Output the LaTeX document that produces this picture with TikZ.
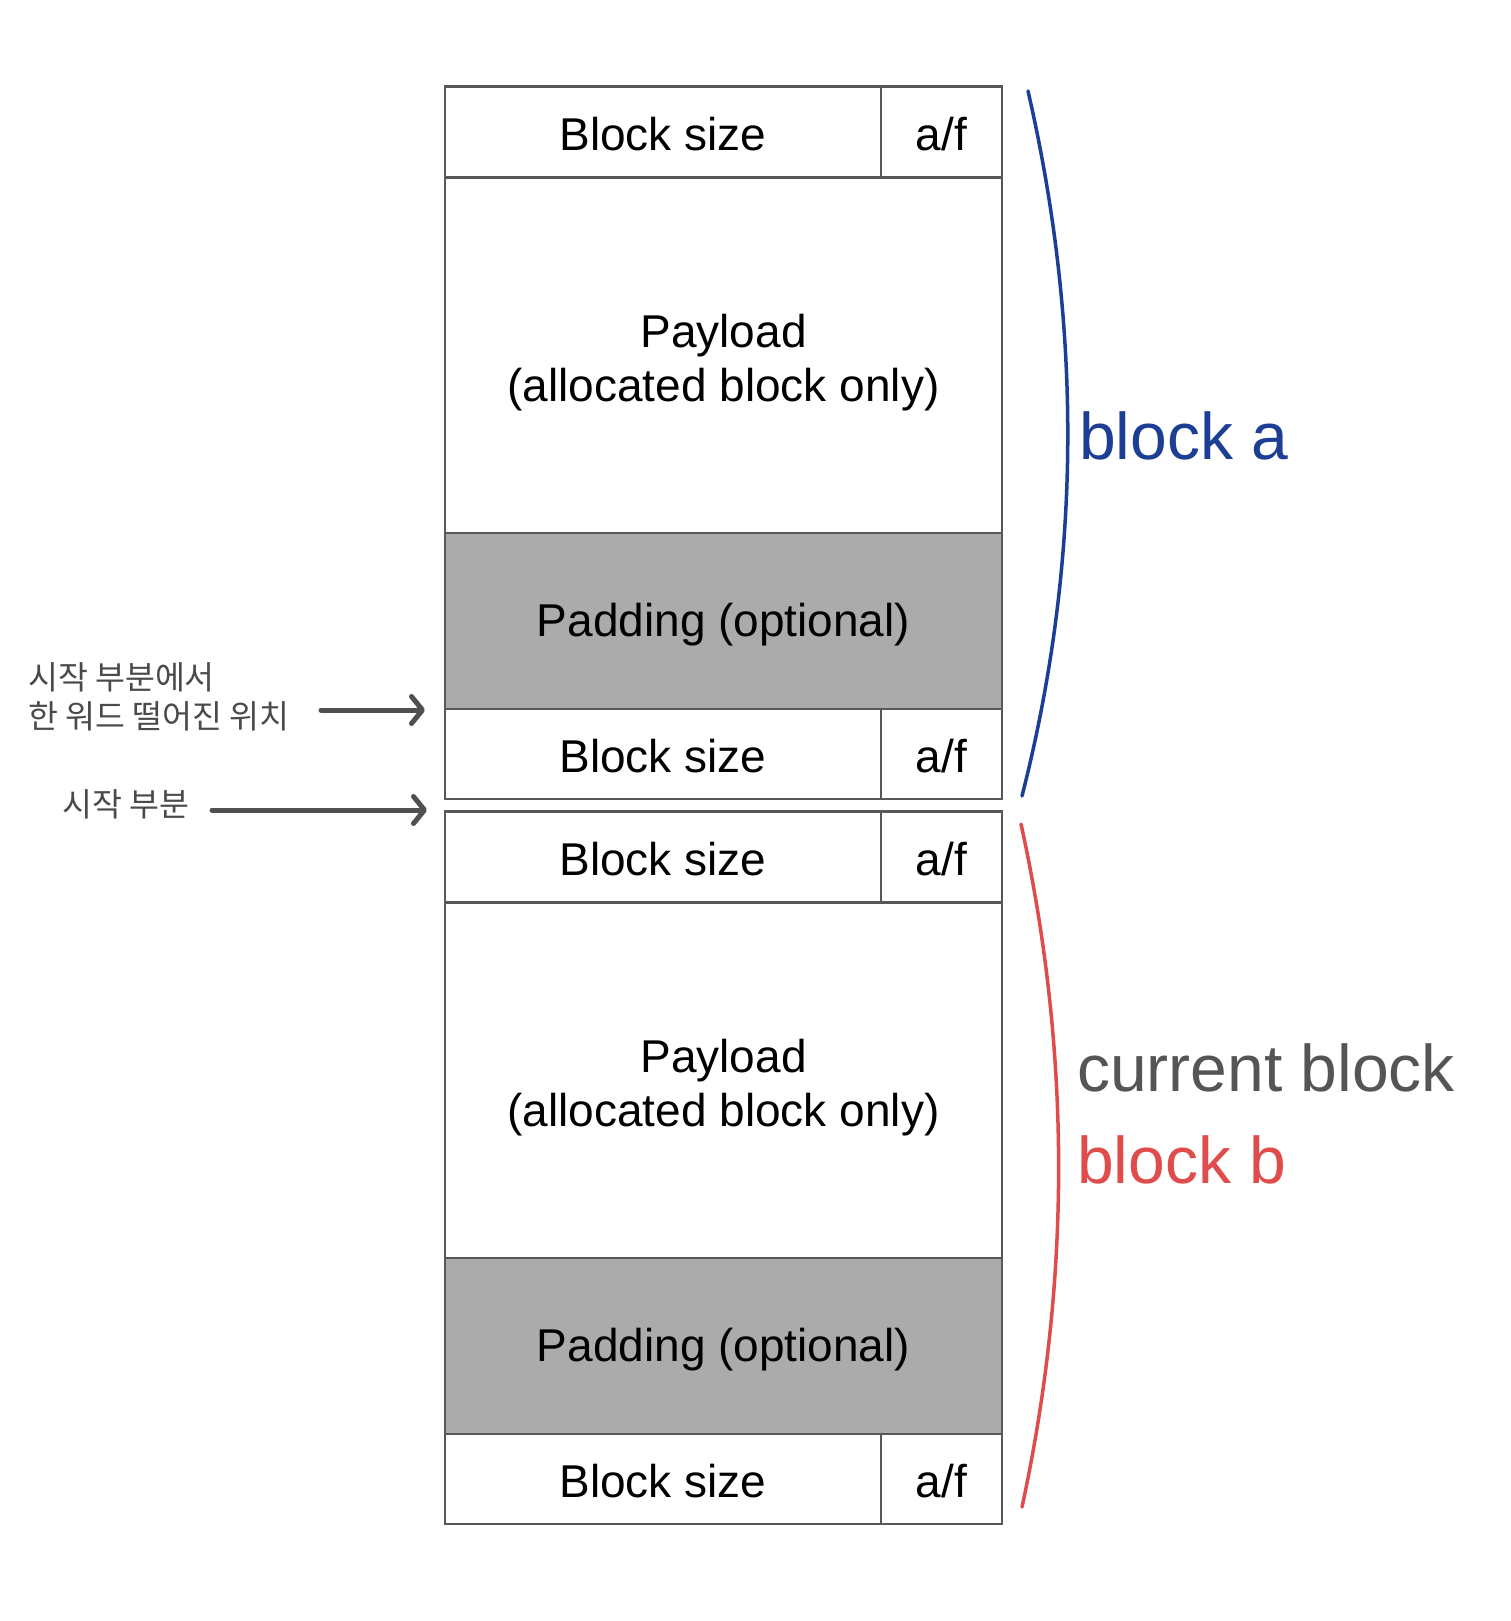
\documentclass[tikz,border=0pt]{standalone}
\usepackage{fontspec}
\setmainfont{Liberation Sans}
\newfontfamily\kofont{Noto Sans CJK KR}
\usetikzlibrary{arrows.meta}
\definecolor{boxline}{HTML}{585858}
\definecolor{padgray}{HTML}{ABABAB}
\definecolor{labgray}{HTML}{4A4A4A}
\definecolor{arrgray}{HTML}{505050}
\definecolor{bluea}{HTML}{1C3E94}
\definecolor{redb}{HTML}{E04B4B}
\definecolor{curgray}{HTML}{555555}
\begin{document}
\begin{tikzpicture}[x=1pt,y=-1pt,
  cell/.style={draw=boxline,line width=2.2pt,inner sep=0pt},
  sizecell/.style={cell,minimum width=436pt,minimum height=91pt},
  afcell/.style={cell,minimum width=121pt,minimum height=91pt},
  paycell/.style={cell,minimum width=557pt,minimum height=355pt},
  padcell/.style={cell,fill=padgray,minimum width=557pt,minimum height=176pt},
  celltxt/.style={inner sep=0pt,text=black,font=\fontsize{46}{54}\selectfont,align=center},
  korlab/.style={text=labgray,font=\kofont\fontsize{32.5}{39}\selectfont,align=left,inner sep=0pt,anchor=west},
  ptr/.style={draw=arrgray,line width=5pt,line cap=round,
    -{Straight Barb[length=11pt,width=27pt,line width=5pt,round]}},
  bigtxt/.style={font=\fontsize{66}{72}\selectfont,inner sep=0pt,anchor=west}
]
\fill[white] (0,0) rectangle (1510,1621);
\useasboundingbox (0,0) rectangle (1510,1621);

% block a
\node[sizecell] (asz) at (663,132) {};
\node[afcell] (aaf) at (941.5,132) {};
\node[paycell] (apl) at (723.5,355.5) {};
\node[padcell] (apd) at (723.5,621) {};
\node[sizecell,minimum height=90pt] (afs) at (663,754) {};
\node[afcell,minimum height=90pt] (afa) at (941.5,754) {};
\node[celltxt] (tasz) at ([yshift=-2pt]asz.center) {Block size};
\node[celltxt] (taaf) at ([yshift=-2pt]aaf.center) {a/f};
\node[celltxt] (tapl) at ([yshift=-7pt]apl.center) {Payload\\(allocated block only)};
\node[celltxt] (tapd) at ([yshift=-4pt]apd.center) {Padding (optional)};
\node[celltxt] (tafs) at ([yshift=-2pt]afs.center) {Block size};
\node[celltxt] (tafa) at ([yshift=-2pt]afa.center) {a/f};

% block b
\node[sizecell] (bsz) at (663,857) {};
\node[afcell] (baf) at (941.5,857) {};
\node[paycell] (bpl) at (723.5,1080.5) {};
\node[padcell] (bpd) at (723.5,1346) {};
\node[sizecell,minimum height=90pt] (bfs) at (663,1479) {};
\node[afcell,minimum height=90pt] (bfa) at (941.5,1479) {};
\node[celltxt] (tbsz) at ([yshift=-2pt]bsz.center) {Block size};
\node[celltxt] (tbaf) at ([yshift=-2pt]baf.center) {a/f};
\node[celltxt] (tbpl) at ([yshift=-7pt]bpl.center) {Payload\\(allocated block only)};
\node[celltxt] (tbpd) at ([yshift=-4pt]bpd.center) {Padding (optional)};
\node[celltxt] (tbfs) at ([yshift=-2pt]bfs.center) {Block size};
\node[celltxt] (tbfa) at ([yshift=-2pt]bfa.center) {a/f};

% left labels
\node[korlab] (lab1) at (28,697) {시작 부분에서\\한 워드 떨어진 위치};
\node[korlab] (lab2) at (62,804) {시작 부분};
\coordinate (p1s) at (321,710);
\coordinate (p1e) at (425,710);
\coordinate (p2s) at (212,810);
\coordinate (p2e) at (427,810);
\draw[ptr] (p1s) -- (p1e);
\draw[ptr] (p2s) -- (p2e);

% braces
\coordinate (bat) at (1028,91);
\coordinate (bab) at (1022,796);
\coordinate (bbt) at (1021,824);
\coordinate (bbb) at (1022,1507);
\draw[bluea,line width=3.5pt,line cap=round] (bat) .. controls (1082,326) and (1082,561) .. (bab);
\draw[redb,line width=3.5pt,line cap=round] (bbt) .. controls (1071,1052) and (1071,1280) .. (bbb);

\node[bigtxt,text=bluea] (blka) at (1079,436) {block a};
\node[bigtxt,text=curgray] (curb) at (1077,1068) {current block};
\node[bigtxt,text=redb] (blkb) at (1077,1160) {block b};
\end{tikzpicture}
\end{document}
